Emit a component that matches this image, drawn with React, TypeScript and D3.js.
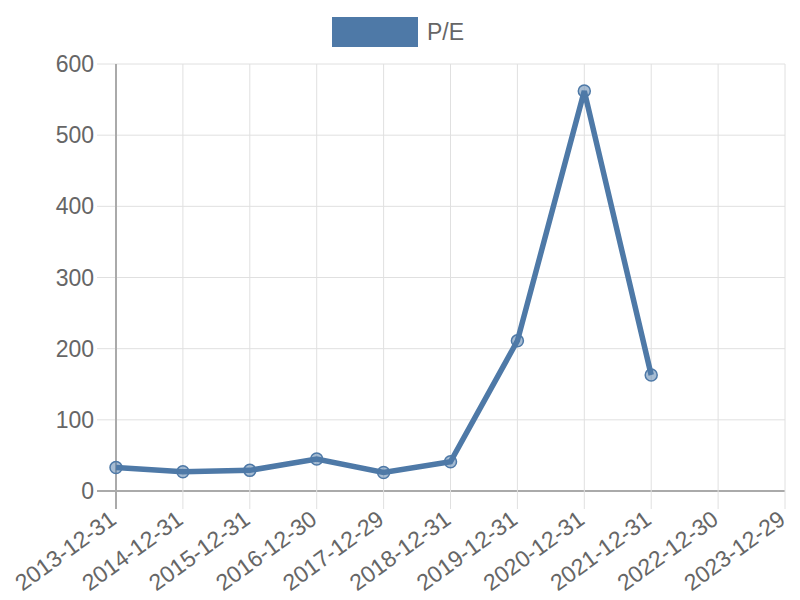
import React from "react";
import * as d3 from "d3";

const categories = [
  "2013-12-31", "2014-12-31", "2015-12-31", "2016-12-30", "2017-12-29",
  "2018-12-31", "2019-12-31", "2020-12-31", "2021-12-31", "2022-12-30", "2023-12-29",
];
const peValues: (number | null)[] = [33, 27, 29, 45, 26, 41, 211, 562, 163, null, null];
const yTicks = [0, 100, 200, 300, 400, 500, 600];
const seriesName = "P/E";

const W = 800, H = 600;
const left = 116, right = 785, top = 64, bottom = 491;
const color = "#4e79a7";
const font = "'Liberation Sans', Arial, sans-serif";
const fs = 23;

export default function App() {
  const x = d3.scalePoint<string>().domain(categories).range([left, right]);
  const y = d3.scaleLinear().domain([0, 600]).range([bottom, top]);
  const pts = categories
    .map((c, i) => ({ c, v: peValues[i] }))
    .filter((d) => d.v !== null) as { c: string; v: number }[];
  const line = d3.line<{ c: string; v: number }>().x((d) => x(d.c)!).y((d) => y(d.v));

  return (
    <svg width={W} height={H} style={{ position: "absolute", left: 0, top: 0 }} fontFamily={font}>
      <rect width={W} height={H} fill="#fff" />
      {/* legend */}
      <rect x={332} y={17} width={86} height={30} fill={color} />
      <text x={427} y={40} fontSize={fs} fill="#666">{seriesName}</text>
      {/* horizontal grid */}
      {yTicks.map((t) => (
        <g key={t}>
          <line x1={97} x2={right} y1={y(t)} y2={y(t)} stroke={t === 0 ? "#aaa" : "#e0e0e0"} strokeWidth={t === 0 ? 2 : 1} />
          <text x={94} y={y(t)} dy="0.35em" textAnchor="end" fontSize={fs} fill="#666">{t}</text>
        </g>
      ))}
      {/* vertical grid */}
      {categories.map((c, i) => (
        <g key={c}>
          <line x1={x(c)} x2={x(c)} y1={top} y2={bottom + 18} stroke={i === 0 ? "#aaa" : "#e0e0e0"} strokeWidth={i === 0 ? 2 : 1} />
          <text
            transform={`translate(${x(c)! - 3},${bottom + 25}) rotate(-36)`}
            textAnchor="end"
            dy="0.35em"
            fontSize={fs}
            fill="#666"
          >
            {c}
          </text>
        </g>
      ))}
      <path d={line(pts) || ""} fill="none" stroke={color} strokeWidth={5.5} strokeLinejoin="miter" />
      {pts.map((d) => (
        <circle key={d.c} cx={x(d.c)} cy={y(d.v)} r={6} fill="rgba(78,121,167,0.5)" stroke={color} strokeWidth={1.5} />
      ))}
    </svg>
  );
}
